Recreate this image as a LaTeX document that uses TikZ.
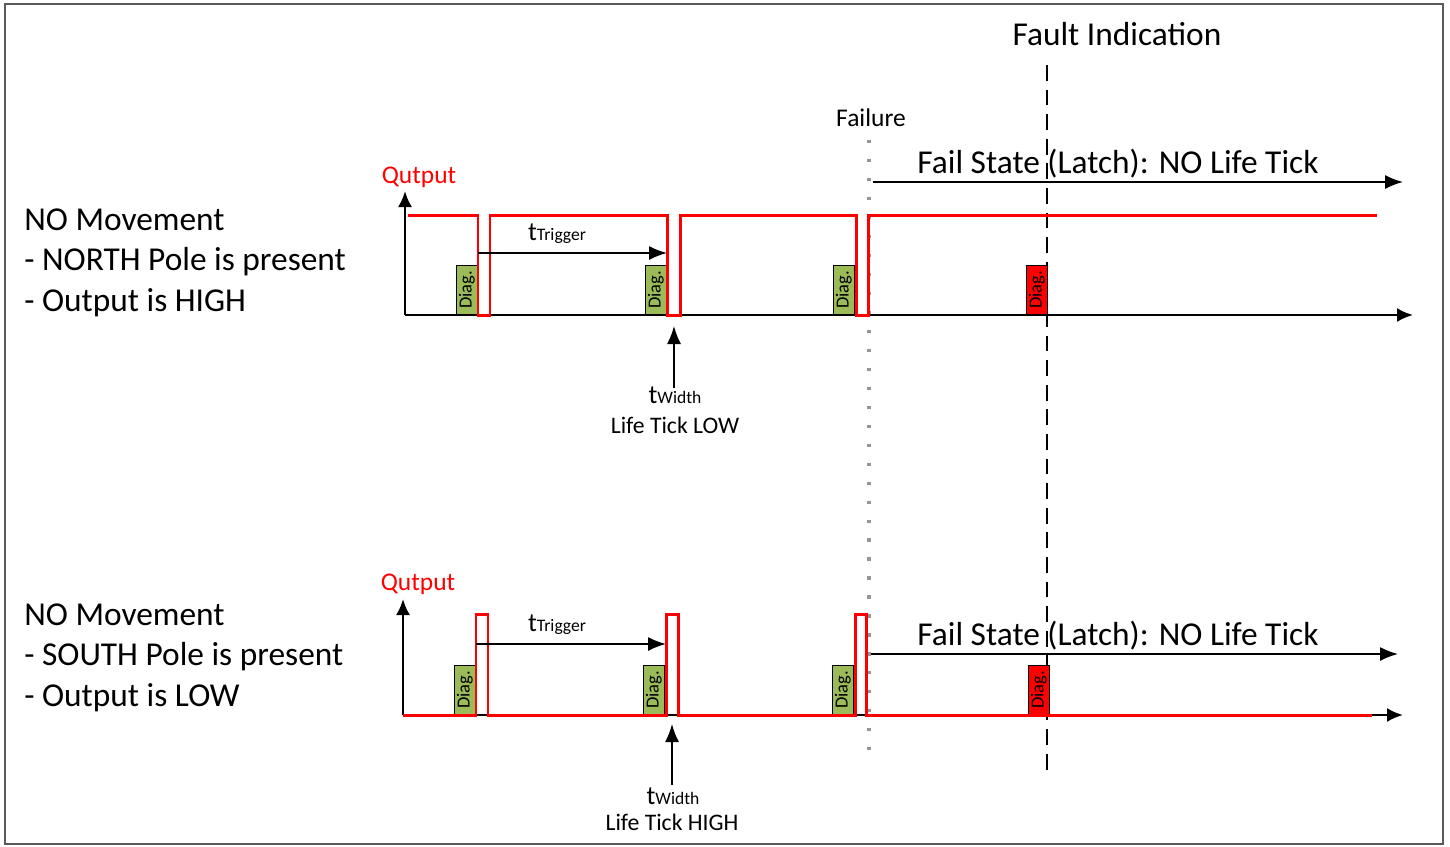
\documentclass[tikz,border=0pt]{standalone}
\usepackage{fontspec}
\setmainfont{Carlito}
\usepackage{tikz}
\usetikzlibrary{arrows.meta,positioning,calc}
\definecolor{sigred}{RGB}{255,0,0}
\definecolor{diaggreen}{RGB}{155,187,89}
\definecolor{framegray}{RGB}{90,90,90}
\definecolor{dotgray}{RGB}{150,150,150}
\tikzset{
  axis/.style={line width=1.3pt,-{Latex[length=3.2mm,width=2.8mm]}},
  marker/.style={line width=0.9pt,-{Latex[length=3.6mm,width=2.8mm]}},
  signal/.style={line width=1.7pt,sigred,line join=miter},
  diagbox/.style={draw=black,line width=0.5pt,fill=diaggreen,minimum width=0.42cm,
    minimum height=0.98cm,inner sep=0pt,anchor=south west},
  faildiag/.style={diagbox,fill=sigred},
  diaglabel/.style={font=\fontsize{10.5}{12}\selectfont,rotate=90},
  bigtext/.style={font=\fontsize{19}{23}\selectfont,inner sep=0pt,anchor=base west},
  midtext/.style={font=\fontsize{14.5}{17}\selectfont,inner sep=0pt,anchor=base},
  redtext/.style={midtext,text=sigred},
  failure/.style={line width=1.8pt,dotgray,dash pattern=on 1.8pt off 9pt},
  fault/.style={line width=1pt,dash pattern=on 9pt off 5pt}
}
\newcommand{\tsub}[1]{\fontsize{15}{18}\selectfont t\fontsize{10}{12}\selectfont #1}

\begin{document}
\begin{tikzpicture}[x=0.02cm,y=-0.02cm]
  \useasboundingbox (0,0) rectangle (1450,846);
  \draw[framegray,line width=1.2pt] (5,4) rectangle (1443,844);

  % failure and fault markers
  \coordinate (fl1) at (869,140);
  \coordinate (fl2) at (869,752);
  \coordinate (fi1) at (1047,65);
  \coordinate (fi2) at (1047,773);
  \draw[failure] (fl1) -- (fl2);
  \draw[fault] (fi1) -- (fi2);
  \node[midtext] (failtxt) at (871,126) {Failure};
  \node[bigtext,anchor=base] (faulttxt) at (1117,45) {Fault Indication};

  % upper diagram: NORTH pole
  \node[bigtext,align=left] (northtxt) at (24,311)
    {NO Movement\\- NORTH Pole is present\\- Output is HIGH};
  \coordinate (o1) at (405,315);
  \coordinate (y1) at (405,191);
  \coordinate (x1) at (1413,315);
  \draw[axis] (o1) -- (y1);
  \draw[axis] (o1) -- (x1);
  \node[redtext] (out1) at (419,183) {Qutput};
  \node[diagbox] (d11) at (456,315) {};
  \node[diagbox] (d12) at (645,315) {};
  \node[diagbox] (d13) at (833,315) {};
  \node[faildiag] (d14) at (1026,315) {};
  \foreach \d in {d11,d12,d13,d14}
    \node[diaglabel] at (\d.center) {Diag.};
  \draw[signal] (408,215) -| (478,315) -| (490,215) -| (667,315) -| (680,215)
    -| (856,315) -| (868,215) -- (1377,215);
  \coordinate (tt1a) at (478,253);
  \coordinate (tt1b) at (667,253);
  \draw[marker] (tt1a) -- (tt1b);
  \node[inner sep=0pt,anchor=base] (trig1) at (557,240) {\tsub{Trigger}};
  \node[inner sep=0pt,anchor=base] (wid1) at (675,403) {\tsub{Width}};
  \node[midtext,font=\fontsize{13.5}{16}\selectfont] (low) at (675,433) {Life Tick LOW};
  \coordinate (w1a) at (674,388);
  \coordinate (w1b) at (674,326);
  \draw[marker] (w1a) -- (w1b);
  \coordinate (fs1a) at (873,182);
  \coordinate (fs1b) at (1403,182);
  \draw[marker] (fs1a) -- (fs1b);
  \node[bigtext,anchor=base] (fail1) at (1118,173) {Fail State (Latch): NO Life Tick};

  % lower diagram: SOUTH pole
  \node[bigtext,align=left] (southtxt) at (24,706)
    {NO Movement\\- SOUTH Pole is present\\- Output is LOW};
  \coordinate (o2) at (403,715);
  \coordinate (y2) at (403,599);
  \coordinate (x2) at (1403,715);
  \draw[axis] (o2) -- (y2);
  \draw[axis] (o2) -- (x2);
  \node[redtext] (out2) at (418,590) {Qutput};
  \node[diagbox] (d21) at (454,715) {};
  \node[diagbox] (d22) at (643,715) {};
  \node[diagbox] (d23) at (832,715) {};
  \node[faildiag] (d24) at (1028,715) {};
  \foreach \d in {d21,d22,d23,d24}
    \node[diaglabel] at (\d.center) {Diag.};
  \draw[signal] (403,715) -| (476,614) -| (488,715) -| (666,614) -| (678,715)
    -| (855,614) -| (866,715) -- (1372,715);
  \coordinate (tt2a) at (476,644);
  \coordinate (tt2b) at (666,644);
  \draw[marker] (tt2a) -- (tt2b);
  \node[inner sep=0pt,anchor=base] (trig2) at (557,631) {\tsub{Trigger}};
  \node[inner sep=0pt,anchor=base] (wid2) at (673,804) {\tsub{Width}};
  \node[midtext,font=\fontsize{13.5}{16}\selectfont] (high) at (672,830) {Life Tick HIGH};
  \coordinate (w2a) at (672,785);
  \coordinate (w2b) at (672,724);
  \draw[marker] (w2a) -- (w2b);
  \coordinate (fs2a) at (871,654);
  \coordinate (fs2b) at (1398,654);
  \draw[marker] (fs2a) -- (fs2b);
  \node[bigtext,anchor=base] (fail2) at (1118,645) {Fail State (Latch): NO Life Tick};
\end{tikzpicture}
\end{document}
